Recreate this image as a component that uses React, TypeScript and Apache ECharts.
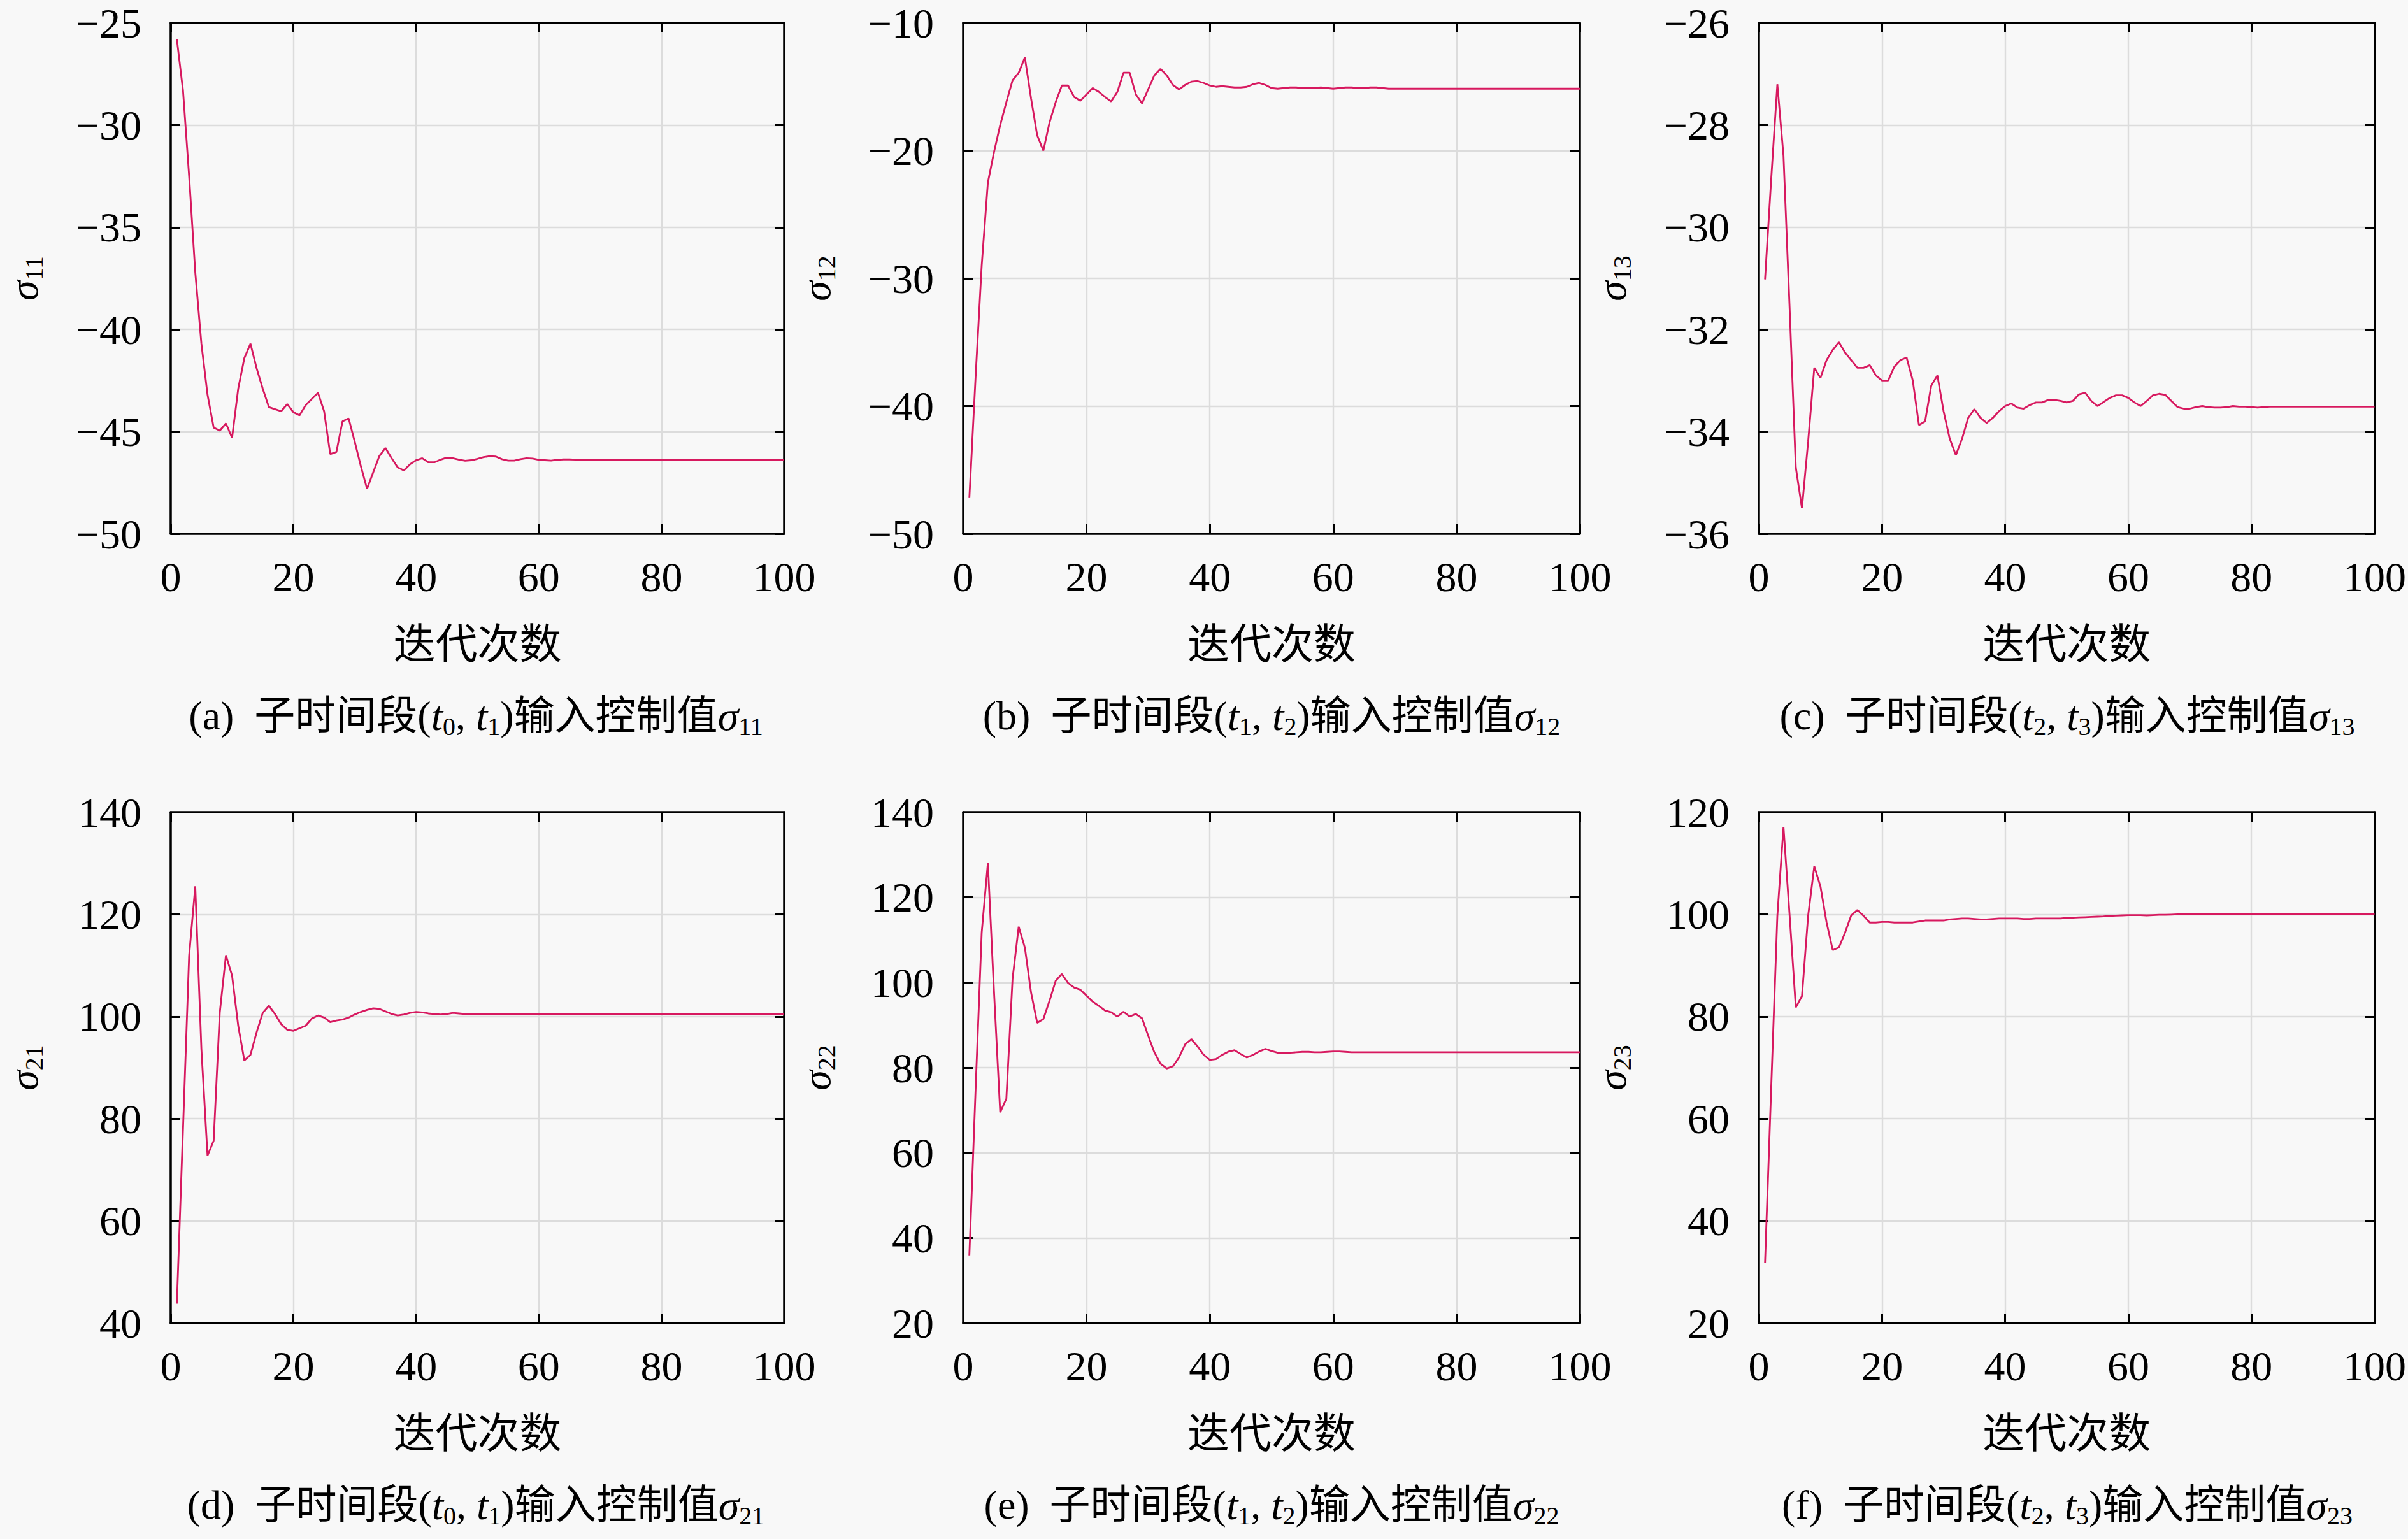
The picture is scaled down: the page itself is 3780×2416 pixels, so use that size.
import React, { useEffect, useRef } from "react";
import * as echarts from "echarts";

const ITER = Array.from({ length: 100 }, (_, i) => i + 1);

const S11 = [
  -25.8, -28.3, -32.5, -37.2, -40.7, -43.2, -44.8, -44.95, -44.6, -45.3,
  -42.9, -41.4, -40.7, -41.9, -42.9, -43.8, -43.9, -44.0, -43.65, -44.05,
  -44.2, -43.7, -43.4, -43.1, -44.0, -46.1, -46.0, -44.5, -44.35, -45.5,
  -46.7, -47.8, -47.0, -46.2, -45.8, -46.3, -46.75, -46.9, -46.6, -46.4,
  -46.3, -46.5, -46.5, -46.37, -46.27, -46.3, -46.37, -46.43, -46.4, -46.33,
  -46.25, -46.2, -46.22, -46.35, -46.42, -46.42, -46.35, -46.3, -46.32, -46.38,
  -46.4, -46.42, -46.38, -46.36, -46.36, -46.37, -46.38, -46.4, -46.4, -46.39,
  -46.38, -46.37, -46.37, -46.37, -46.37, -46.37, -46.37, -46.37, -46.37, -46.37,
  -46.37, -46.37, -46.37, -46.37, -46.37, -46.37, -46.37, -46.37, -46.37, -46.37,
  -46.37, -46.37, -46.37, -46.37, -46.37, -46.37, -46.37, -46.37, -46.37, -46.37,
];

const S12 = [
  -47.2, -37.8, -29.0, -22.5, -20.1, -18.0, -16.2, -14.5, -13.9, -12.7,
  -15.9, -18.8, -20.0, -17.8, -16.2, -14.9, -14.9, -15.8, -16.1, -15.6,
  -15.1, -15.4, -15.8, -16.15, -15.4, -13.9, -13.9, -15.6, -16.3, -15.2,
  -14.1, -13.6, -14.1, -14.85, -15.2, -14.85, -14.6, -14.55, -14.7, -14.9,
  -15.0, -14.95, -15.0, -15.05, -15.05, -15.0, -14.8, -14.7, -14.85, -15.1,
  -15.15, -15.1, -15.05, -15.05, -15.1, -15.1, -15.1, -15.05, -15.1, -15.15,
  -15.1, -15.05, -15.05, -15.1, -15.1, -15.05, -15.05, -15.1, -15.15, -15.15,
  -15.15, -15.15, -15.15, -15.15, -15.15, -15.15, -15.15, -15.15, -15.15, -15.15,
  -15.15, -15.15, -15.15, -15.15, -15.15, -15.15, -15.15, -15.15, -15.15, -15.15,
  -15.15, -15.15, -15.15, -15.15, -15.15, -15.15, -15.15, -15.15, -15.15, -15.15,
];

const S13 = [
  -31.02, -29.06, -27.2, -28.6, -31.6, -34.7, -35.5, -34.2, -32.75, -32.95,
  -32.6, -32.4, -32.25, -32.45, -32.6, -32.75, -32.75, -32.7, -32.9, -33.0,
  -33.0, -32.73, -32.6, -32.55, -33.0, -33.87, -33.8, -33.1, -32.9, -33.6,
  -34.14, -34.46, -34.14, -33.73, -33.56, -33.73, -33.83, -33.73, -33.6, -33.5,
  -33.45, -33.53, -33.55, -33.48, -33.43, -33.43, -33.38, -33.38, -33.4, -33.43,
  -33.4, -33.27, -33.24, -33.4, -33.5, -33.42, -33.34, -33.29, -33.29, -33.34,
  -33.43, -33.5, -33.4, -33.29, -33.26, -33.28, -33.4, -33.52, -33.55, -33.55,
  -33.52, -33.5, -33.52, -33.53, -33.53, -33.52, -33.5, -33.51, -33.51, -33.52,
  -33.53, -33.52, -33.51, -33.51, -33.51, -33.51, -33.51, -33.51, -33.51, -33.51,
  -33.51, -33.51, -33.51, -33.51, -33.51, -33.51, -33.51, -33.51, -33.51, -33.51,
];

const S21 = [
  43.8, 77.9, 111.9, 125.5, 93.6, 72.8, 75.7, 100.8, 112.0, 108.0,
  98.2, 91.4, 92.5, 96.9, 100.7, 102.1, 100.5, 98.5, 97.4, 97.2,
  97.7, 98.2, 99.6, 100.2, 99.8, 98.9, 99.2, 99.4, 99.8, 100.4,
  100.9, 101.3, 101.6, 101.5, 101.0, 100.5, 100.2, 100.4, 100.7, 100.9,
  100.8, 100.6, 100.5, 100.4, 100.5, 100.7, 100.6, 100.5, 100.5, 100.5,
  100.5, 100.5, 100.5, 100.5, 100.5, 100.5, 100.5, 100.5, 100.5, 100.5,
  100.5, 100.5, 100.5, 100.5, 100.5, 100.5, 100.5, 100.5, 100.5, 100.5,
  100.5, 100.5, 100.5, 100.5, 100.5, 100.5, 100.5, 100.5, 100.5, 100.5,
  100.5, 100.5, 100.5, 100.5, 100.5, 100.5, 100.5, 100.5, 100.5, 100.5,
  100.5, 100.5, 100.5, 100.5, 100.5, 100.5, 100.5, 100.5, 100.5, 100.5,
];

const S22 = [
  35.9, 74.5, 111.7, 128.1, 97.7, 69.5, 72.7, 100.8, 113.1, 108.2,
  97.7, 90.5, 91.4, 95.7, 100.4, 102.0, 99.9, 98.8, 98.3, 96.9,
  95.5, 94.5, 93.4, 93.0, 92.0, 93.1, 92.0, 92.6, 91.6, 87.5,
  83.6, 80.9, 79.8, 80.3, 82.4, 85.5, 86.7, 85.0, 83.0, 81.8,
  82.0, 83.0, 83.75, 84.1, 83.2, 82.4, 83.0, 83.8, 84.4, 83.9,
  83.5, 83.4, 83.5, 83.6, 83.7, 83.7, 83.6, 83.6, 83.7, 83.8,
  83.8, 83.7, 83.6, 83.6, 83.6, 83.6, 83.6, 83.6, 83.6, 83.6,
  83.6, 83.6, 83.6, 83.6, 83.6, 83.6, 83.6, 83.6, 83.6, 83.6,
  83.6, 83.6, 83.6, 83.6, 83.6, 83.6, 83.6, 83.6, 83.6, 83.6,
  83.6, 83.6, 83.6, 83.6, 83.6, 83.6, 83.6, 83.6, 83.6, 83.6,
];

const S23 = [
  31.8, 66.0, 99.7, 117.1, 99.7, 81.8, 84.0, 99.7, 109.4, 105.5,
  98.4, 93.0, 93.5, 96.4, 99.8, 100.85, 99.7, 98.4, 98.4, 98.5,
  98.5, 98.4, 98.4, 98.4, 98.4, 98.6, 98.8, 98.8, 98.8, 98.8,
  99.0, 99.1, 99.2, 99.2, 99.1, 99.0, 99.0, 99.1, 99.2, 99.2,
  99.2, 99.2, 99.1, 99.1, 99.2, 99.2, 99.2, 99.2, 99.2, 99.3,
  99.35, 99.4, 99.45, 99.5, 99.55, 99.6, 99.7, 99.75, 99.8, 99.85,
  99.85, 99.85, 99.8, 99.85, 99.9, 99.9, 99.95, 100.0, 100.0, 100.0,
  100.0, 100.0, 100.0, 100.0, 100.0, 100.0, 100.0, 100.0, 100.0, 100.0,
  100.0, 100.0, 100.0, 100.0, 100.0, 100.0, 100.0, 100.0, 100.0, 100.0,
  100.0, 100.0, 100.0, 100.0, 100.0, 100.0, 100.0, 100.0, 100.0, 100.0,
];

const X_MIN = 0;
const X_MAX = 100;
const X_INTERVAL = 20;

const PANEL_KEYS = ["a", "b", "c", "d", "e", "f"];
const PANEL_VALUES = [S11, S12, S13, S21, S22, S23];
const Y_MINS = [-50, -50, -36, 40, 20, 20];
const Y_MAXS = [-25, -10, -26, 140, 140, 120];
const Y_INTERVALS = [5, 10, 2, 20, 20, 20];
const SIGMA_SUBS = ["11", "12", "13", "21", "22", "23"];
const T_SUBS = [
  ["0", "1"],
  ["1", "2"],
  ["2", "3"],
  ["0", "1"],
  ["1", "2"],
  ["2", "3"],
];
const X_NAME = "迭代次数";

const SERIF = "'Liberation Serif', 'DejaVu Serif', 'Noto Sans CJK SC', serif";
const CJK = "'Liberation Serif', 'Noto Sans CJK SC', serif";

const GRID_LEFTS = [263, 1512, 2761];
const GRID_TOPS = [36, 1275];
const GRID_W = 968;
const GRID_H = 802;
const CAPTION_Y = [1123, 2362];
const LINE_COLOR = "#d7195f";

function fmtY(v: number) {
  return v < 0 ? "\u2212" + Math.abs(v) : String(v);
}

export default function App() {
  const ref = useRef<HTMLDivElement>(null);

  useEffect(() => {
    document.body.style.margin = "0";
    document.body.style.background = "#f8f8f8";
    if (!ref.current) return;
    const chart = echarts.init(ref.current, undefined, { renderer: "svg" });

    const grids: any[] = [];
    const xAxes: any[] = [];
    const yAxes: any[] = [];
    const series: any[] = [];
    const graphics: any[] = [];

    const axisLine = { show: true, onZero: false, lineStyle: { color: "#000", width: 3.5 } };
    const axisTick = { show: true, inside: true, length: 15, lineStyle: { color: "#000", width: 3 } };
    const splitLine = { show: true, lineStyle: { color: "#dcdcdc", width: 2.4 } };

    PANEL_KEYS.forEach((key, i) => {
      const col = i % 3;
      const row = Math.floor(i / 3);
      grids.push({
        left: GRID_LEFTS[col],
        top: GRID_TOPS[row],
        width: GRID_W,
        height: GRID_H,
        show: false,
      });
      xAxes.push({
        type: "value",
        gridIndex: i,
        position: "bottom",
        min: X_MIN,
        max: X_MAX,
        interval: X_INTERVAL,
        axisLine,
        axisTick,
        splitLine,
        axisLabel: { show: true, margin: 34, fontSize: 66, fontFamily: SERIF, color: "#000" },
        name: X_NAME,
        nameLocation: "middle",
        nameGap: 140,
        nameTextStyle: { fontSize: 66, fontFamily: CJK, color: "#000" },
      });
      xAxes.push({
        type: "value",
        gridIndex: i,
        position: "top",
        min: X_MIN,
        max: X_MAX,
        interval: X_INTERVAL,
        axisLine,
        axisTick,
        splitLine: { show: false },
        axisLabel: { show: false },
      });
      yAxes.push({
        type: "value",
        gridIndex: i,
        position: "left",
        min: Y_MINS[i],
        max: Y_MAXS[i],
        interval: Y_INTERVALS[i],
        axisLine,
        axisTick,
        splitLine,
        axisLabel: {
          show: true,
          margin: 46,
          fontSize: 66,
          fontFamily: SERIF,
          color: "#000",
          formatter: fmtY,
        },
        name: "{i|σ}{s|" + SIGMA_SUBS[i] + "}",
        nameLocation: "middle",
        nameGap: 195,
        nameTextStyle: {
          color: "#000",
          fontFamily: SERIF,
          fontSize: 64,
          lineHeight: 72,
          rich: {
            i: { fontStyle: "italic", fontSize: 64, fontFamily: SERIF, lineHeight: 72, color: "#000" },
            s: { fontSize: 40, fontFamily: SERIF, lineHeight: 34, verticalAlign: "bottom", color: "#000" },
          },
        },
      });
      yAxes.push({
        type: "value",
        gridIndex: i,
        position: "right",
        min: Y_MINS[i],
        max: Y_MAXS[i],
        interval: Y_INTERVALS[i],
        axisLine,
        axisTick,
        splitLine: { show: false },
        axisLabel: { show: false },
      });

      const vals = PANEL_VALUES[i];
      series.push({
        type: "line",
        xAxisIndex: 2 * i,
        yAxisIndex: 2 * i,
        data: ITER.map((x, j) => [x, vals[j]]),
        showSymbol: false,
        symbol: "none",
        lineStyle: { color: LINE_COLOR, width: 2.8 },
        z: 3,
      });

      const t = T_SUBS[i];
      const capText =
        "{n|(" + key + ")  子时间段(}{i|t}{s|" + t[0] + "}{n|, }{i|t}{s|" + t[1] +
        "}{n|)输入控制值}{i|σ}{s|" + SIGMA_SUBS[i] + "}";
      graphics.push({
        type: "text",
        x: GRID_LEFTS[col] + GRID_W / 2,
        y: CAPTION_Y[row],
        style: {
          text: capText,
          align: "center",
          verticalAlign: "middle",
          fill: "#000",
          fontSize: 64,
          fontFamily: CJK,
          rich: {
            n: { fontSize: 64, fontFamily: CJK, lineHeight: 74, fill: "#000" },
            i: { fontSize: 66, fontFamily: SERIF, fontStyle: "italic", lineHeight: 74, fill: "#000" },
            s: { fontSize: 40, fontFamily: SERIF, lineHeight: 34, verticalAlign: "bottom", fill: "#000" },
          },
        },
      });
    });

    chart.setOption({
      animation: false,
      backgroundColor: "#f8f8f8",
      grid: grids,
      xAxis: xAxes,
      yAxis: yAxes,
      series,
      graphic: graphics,
    });

    return () => chart.dispose();
  }, []);

  return <div ref={ref} style={{ width: 3780, height: 2416, background: "#f8f8f8" }} />;
}
